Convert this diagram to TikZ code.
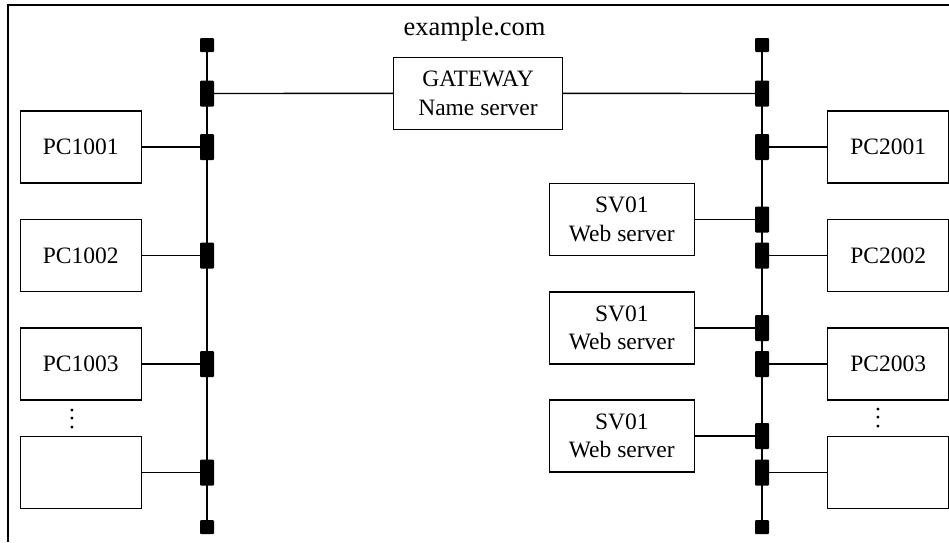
\documentclass[tikz,border=0pt]{standalone}
\usepackage{fontspec}
\setmainfont{Liberation Serif}
\usetikzlibrary{positioning}
\tikzset{node distance=58pt, auto,
  box/.style={draw, line width=1.4pt, minimum width=121pt, minimum height=72pt,
    align=center, inner sep=0pt, font=\fontsize{23.5}{28.5}\selectfont},
  srvbox/.style={box, minimum width=145pt},
  tap/.style={fill=black, rounded corners=1pt, minimum width=14pt,
    minimum height=26pt, inner sep=0pt, outer sep=0pt},
  term/.style={tap, minimum height=14pt},
  wire/.style={line width=1.4pt},
  bus/.style={line width=1.5pt},
  dots/.style={rotate=90, inner sep=0pt, font=\fontsize{23.5}{28}\selectfont}}

\begin{document}
\begin{tikzpicture}[x=1pt,y=-1pt]
  \useasboundingbox (0,0) rectangle (949,542);
  \draw[line width=1.6pt] (949,5) -- (8,5) -- (8,542);

  \node[font=\fontsize{26.5}{30}\selectfont, anchor=base] (dom) at (474.5,35) {example.com};

  % left segment
  \node[term] (lt) at (207,45) {};
  \node[term] (lb) at (207,527) {};
  \draw[bus] (lt) -- (lb);
  \node[tap] (lg) at (207,93.5) {};
  \node[tap] (l1) at (207,147) {};
  \node[tap] (l2) at (207,255.5) {};
  \node[tap] (l3) at (207,364) {};
  \node[tap] (l4) at (207,472.5) {};

  % right segment
  \node[term] (rt) at (762,45) {};
  \node[term] (rb) at (762,527) {};
  \draw[bus] (rt) -- (rb);
  \node[tap] (rg) at (762,93.5) {};
  \node[tap] (r1) at (762,147) {};
  \node[tap] (s1) at (762,219.5) {};
  \node[tap] (r2) at (762,255.5) {};
  \node[tap] (s2) at (762,328) {};
  \node[tap] (r3) at (762,364) {};
  \node[tap] (s3) at (762,436) {};
  \node[tap] (r4) at (762,472.5) {};

  % gateway between both segments
  \node[box, minimum width=169pt] (gw) at (478,93.3) {GATEWAY\\Name server};
  \draw[wire] (lg) -- (gw);
  \draw[wire] (gw) -- (rg);

  % hosts
  \node[box, left=of l1] (pc11) {PC1001};
  \node[box, left=of l2] (pc12) {PC1002};
  \node[box, left=of l3] (pc13) {PC1003};
  \node[box, left=of l4] (pc14) {};
  \node[box, right=of r1] (pc21) {PC2001};
  \node[box, right=of r2] (pc22) {PC2002};
  \node[box, right=of r3] (pc23) {PC2003};
  \node[box, right=of r4] (pc24) {};
  \node[srvbox, left=60pt of s1] (sv1) {SV01\\Web server};
  \node[srvbox, left=60pt of s2] (sv2) {SV01\\Web server};
  \node[srvbox, left=60pt of s3] (sv3) {SV01\\Web server};

  \node[dots] (d1) at (72,419) {.\hspace{2.6pt}.\hspace{2.6pt}.};
  \node[dots] (d2) at (878,418) {.\hspace{2.6pt}.\hspace{2.6pt}.};

  \foreach \a/\b in {pc11/l1,pc12/l2,pc13/l3,pc14/l4,
                     pc21/r1,pc22/r2,pc23/r3,pc24/r4,
                     sv1/s1,sv2/s2,sv3/s3}
    \draw[wire] (\a) -- (\b);
\end{tikzpicture}
\end{document}
